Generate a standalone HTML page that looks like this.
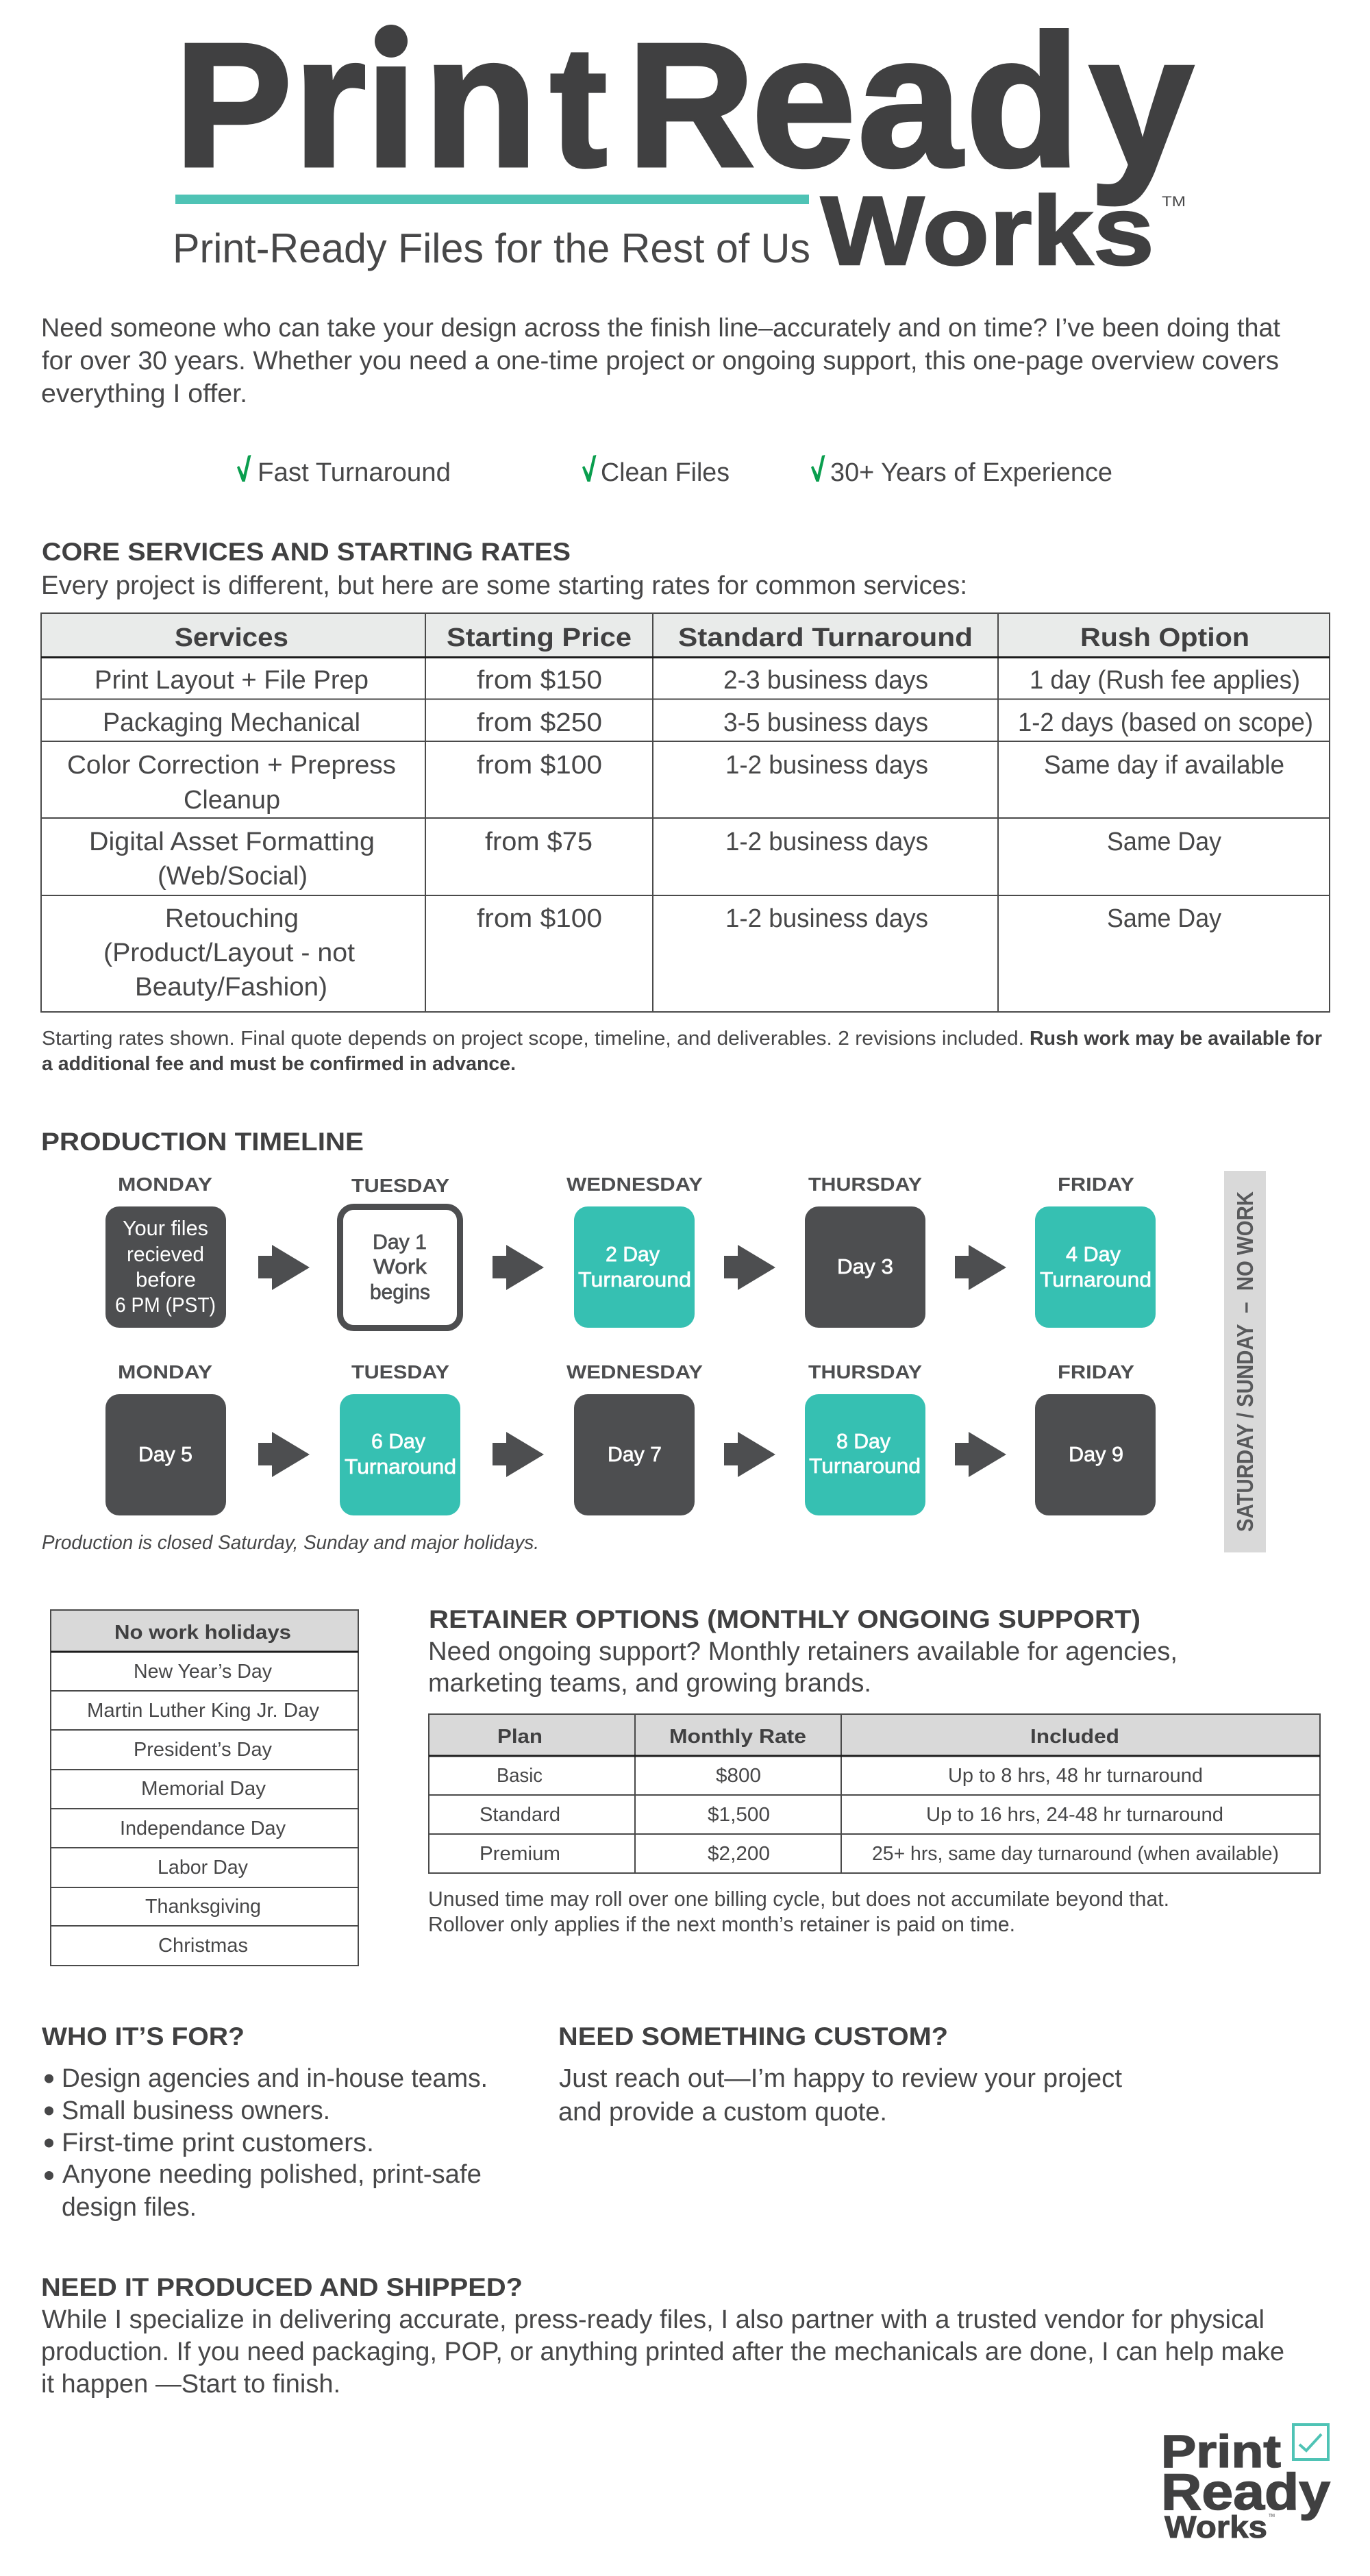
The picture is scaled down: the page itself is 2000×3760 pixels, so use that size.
<!DOCTYPE html>
<html lang="en"><head><meta charset="utf-8"><title>PrintReady Works</title>
<style>
html,body{margin:0;padding:0;background:#fff}
svg{display:block}
text{font-family:"Liberation Sans",sans-serif;fill:#474748;white-space:pre}
.h{font-weight:700;font-size:37px;fill:#404041}
.p{font-size:38px}
.t{font-size:38px}
.th{font-weight:700;font-size:38px;fill:#404041}
.s{font-size:29px}
.sb{font-size:29px;font-weight:700;fill:#404041}
.d{font-size:28px;font-weight:700;fill:#4d4e50}
.w{font-size:31px;fill:#fff}
.wm{font-size:31px;fill:#fff;stroke:#fff;stroke-width:.7px}
.dm{font-size:31px;fill:#4d4e50;stroke:#4d4e50;stroke-width:.7px}
.logo{font-weight:700;fill:#404041;stroke:#404041}
</style></head><body>
<svg xmlns="http://www.w3.org/2000/svg" width="2000" height="3760" viewBox="0 0 2000 3760">
<rect width="2000" height="3760" fill="#fff"/>

<!-- main logo -->
<text class="logo" y="242" stroke-width="5"><tspan x="255" font-size="257">P</tspan><tspan x="428 533 618" font-size="274">rin</tspan><tspan x="803" font-size="250">t</tspan><tspan x="916" font-size="257">R</tspan><tspan x="1097 1252 1409.5 1590" font-size="274">eady</tspan></text>
<rect x="548" y="40" width="46" height="57" fill="#fff"/>
<circle cx="571" cy="60" r="24" fill="#404041"/>
<rect x="256" y="284" width="925" height="14" fill="#4fc3b5"/>
<text x="252" y="383" font-size="60" textLength="931" lengthAdjust="spacingAndGlyphs">Print-Ready Files for the Rest of Us</text>
<text class="logo" x="1198" y="386" font-size="143" stroke-width="2.5" textLength="487" lengthAdjust="spacingAndGlyphs">Works</text>
<text x="1696" y="301" font-size="21" textLength="35" lengthAdjust="spacingAndGlyphs">TM</text>

<!-- intro -->
<text class="p" x="60" y="491" textLength="1809" lengthAdjust="spacingAndGlyphs">Need someone who can take your design across the finish line–accurately and on time? I’ve been doing that</text>
<text class="p" x="61" y="539" textLength="1806" lengthAdjust="spacingAndGlyphs">for over 30 years. Whether you need a one-time project or ongoing support, this one-page overview covers</text>
<text class="p" x="60" y="587" textLength="301" lengthAdjust="spacingAndGlyphs">everything I offer.</text>

<!-- checks -->
<g fill="#0a9e4e">
<polygon points="346,682 353.5,703 357.6,703 366.5,664 362,665 355.5,693 349,680"/>
<polygon transform="translate(504,0)" points="346,682 353.5,703 357.6,703 366.5,664 362,665 355.5,693 349,680"/>
<polygon transform="translate(838,0)" points="346,682 353.5,703 357.6,703 366.5,664 362,665 355.5,693 349,680"/>
</g>
<text class="p" x="376" y="702" textLength="282" lengthAdjust="spacingAndGlyphs">Fast Turnaround</text>
<text class="p" x="877" y="702" textLength="188" lengthAdjust="spacingAndGlyphs">Clean Files</text>
<text class="p" x="1212" y="702" textLength="412" lengthAdjust="spacingAndGlyphs">30+ Years of Experience</text>

<!-- core services -->
<text class="h" x="61" y="818" textLength="772" lengthAdjust="spacingAndGlyphs">CORE SERVICES AND STARTING RATES</text>
<text class="p" x="60" y="867" textLength="1352" lengthAdjust="spacingAndGlyphs">Every project is different, but here are some starting rates for common services:</text>

<rect x="60" y="895" width="1881" height="64" fill="#e9ebea"/>
<g stroke="#4a4a4a" stroke-width="2" fill="none">
<rect x="60" y="895" width="1881" height="582"/>
<path d="M60 1020.5H1941M60 1082H1941M60 1194H1941M60 1307H1941M621 895V1477M953 895V1477M1457 895V1477"/>
</g>
<path d="M60 959.5H1941" stroke="#1c1c1c" stroke-width="3"/>
<text class="th" x="255" y="943" textLength="166" lengthAdjust="spacingAndGlyphs">Services</text>
<text class="th" x="652" y="943" textLength="270" lengthAdjust="spacingAndGlyphs">Starting Price</text>
<text class="th" x="990" y="943" textLength="430" lengthAdjust="spacingAndGlyphs">Standard Turnaround</text>
<text class="th" x="1577" y="943" textLength="247" lengthAdjust="spacingAndGlyphs">Rush Option</text>

<text class="t" x="138" y="1005" textLength="400" lengthAdjust="spacingAndGlyphs">Print Layout + File Prep</text>
<text class="t" x="696" y="1005" textLength="183" lengthAdjust="spacingAndGlyphs">from $150</text>
<text class="t" x="1056" y="1005" textLength="299" lengthAdjust="spacingAndGlyphs">2-3 business days</text>
<text class="t" x="1503" y="1005" textLength="395" lengthAdjust="spacingAndGlyphs">1 day (Rush fee applies)</text>

<text class="t" x="150" y="1067" textLength="376" lengthAdjust="spacingAndGlyphs">Packaging Mechanical</text>
<text class="t" x="696" y="1067" textLength="183" lengthAdjust="spacingAndGlyphs">from $250</text>
<text class="t" x="1056" y="1067" textLength="299" lengthAdjust="spacingAndGlyphs">3-5 business days</text>
<text class="t" x="1486" y="1067" textLength="431" lengthAdjust="spacingAndGlyphs">1-2 days (based on scope)</text>

<text class="t" x="98" y="1129" textLength="480" lengthAdjust="spacingAndGlyphs">Color Correction + Prepress</text>
<text class="t" x="268" y="1180" textLength="141" lengthAdjust="spacingAndGlyphs">Cleanup</text>
<text class="t" x="696" y="1129" textLength="183" lengthAdjust="spacingAndGlyphs">from $100</text>
<text class="t" x="1059" y="1129" textLength="296" lengthAdjust="spacingAndGlyphs">1-2 business days</text>
<text class="t" x="1524" y="1129" textLength="351" lengthAdjust="spacingAndGlyphs">Same day if available</text>

<text class="t" x="130" y="1241" textLength="417" lengthAdjust="spacingAndGlyphs">Digital Asset Formatting</text>
<text class="t" x="230" y="1291" textLength="219" lengthAdjust="spacingAndGlyphs">(Web/Social)</text>
<text class="t" x="708" y="1241" textLength="157" lengthAdjust="spacingAndGlyphs">from $75</text>
<text class="t" x="1059" y="1241" textLength="296" lengthAdjust="spacingAndGlyphs">1-2 business days</text>
<text class="t" x="1616" y="1241" textLength="167" lengthAdjust="spacingAndGlyphs">Same Day</text>

<text class="t" x="241" y="1353" textLength="195" lengthAdjust="spacingAndGlyphs">Retouching</text>
<text class="t" x="151" y="1403" textLength="367" lengthAdjust="spacingAndGlyphs">(Product/Layout - not</text>
<text class="t" x="197" y="1453" textLength="281" lengthAdjust="spacingAndGlyphs">Beauty/Fashion)</text>
<text class="t" x="696" y="1353" textLength="183" lengthAdjust="spacingAndGlyphs">from $100</text>
<text class="t" x="1059" y="1353" textLength="296" lengthAdjust="spacingAndGlyphs">1-2 business days</text>
<text class="t" x="1616" y="1353" textLength="167" lengthAdjust="spacingAndGlyphs">Same Day</text>

<text class="s" x="61" y="1525" textLength="1434" lengthAdjust="spacingAndGlyphs">Starting rates shown. Final quote depends on project scope, timeline, and deliverables. 2 revisions included.</text>
<text class="sb" x="1503" y="1525" textLength="427" lengthAdjust="spacingAndGlyphs">Rush work may be available for</text>
<text class="sb" x="61" y="1562" textLength="692" lengthAdjust="spacingAndGlyphs">a additional fee and must be confirmed in advance.</text>

<!-- timeline -->
<text class="h" x="60" y="1679" textLength="471" lengthAdjust="spacingAndGlyphs">PRODUCTION TIMELINE</text>

<text class="d" x="172" y="1738" textLength="138" lengthAdjust="spacingAndGlyphs">MONDAY</text>
<text class="d" x="513" y="1740" textLength="143" lengthAdjust="spacingAndGlyphs">TUESDAY</text>
<text class="d" x="827" y="1738" textLength="199" lengthAdjust="spacingAndGlyphs">WEDNESDAY</text>
<text class="d" x="1180" y="1738" textLength="166" lengthAdjust="spacingAndGlyphs">THURSDAY</text>
<text class="d" x="1544" y="1738" textLength="112" lengthAdjust="spacingAndGlyphs">FRIDAY</text>

<text class="d" x="172" y="2012" textLength="138" lengthAdjust="spacingAndGlyphs">MONDAY</text>
<text class="d" x="513" y="2012" textLength="143" lengthAdjust="spacingAndGlyphs">TUESDAY</text>
<text class="d" x="827" y="2012" textLength="199" lengthAdjust="spacingAndGlyphs">WEDNESDAY</text>
<text class="d" x="1180" y="2012" textLength="166" lengthAdjust="spacingAndGlyphs">THURSDAY</text>
<text class="d" x="1544" y="2012" textLength="112" lengthAdjust="spacingAndGlyphs">FRIDAY</text>

<g fill="#4d4e50">
<rect x="154" y="1761" width="176" height="177" rx="20"/>
<rect x="1175" y="1761" width="176" height="177" rx="20"/>
<rect x="154" y="2035" width="176" height="177" rx="20"/>
<rect x="838" y="2035" width="176" height="177" rx="20"/>
<rect x="1511" y="2035" width="176" height="177" rx="20"/>
</g>
<rect x="496.5" y="1761.5" width="175" height="177" rx="20" fill="#fff" stroke="#4d4e50" stroke-width="9"/>
<g fill="#36c0b2">
<rect x="838" y="1761" width="176" height="177" rx="20"/>
<rect x="1511" y="1761" width="176" height="177" rx="20"/>
<rect x="496" y="2035" width="176" height="177" rx="20"/>
<rect x="1175" y="2035" width="176" height="177" rx="20"/>
</g>

<g fill="#4d4e50">
<polygon points="377,1833 397,1833 397,1817 452,1850 397,1883 397,1866 377,1866"/>
<polygon transform="translate(342,0)" points="377,1833 397,1833 397,1817 452,1850 397,1883 397,1866 377,1866"/>
<polygon transform="translate(680,0)" points="377,1833 397,1833 397,1817 452,1850 397,1883 397,1866 377,1866"/>
<polygon transform="translate(1017,0)" points="377,1833 397,1833 397,1817 452,1850 397,1883 397,1866 377,1866"/>
<polygon transform="translate(0,273)" points="377,1833 397,1833 397,1817 452,1850 397,1883 397,1866 377,1866"/>
<polygon transform="translate(342,273)" points="377,1833 397,1833 397,1817 452,1850 397,1883 397,1866 377,1866"/>
<polygon transform="translate(680,273)" points="377,1833 397,1833 397,1817 452,1850 397,1883 397,1866 377,1866"/>
<polygon transform="translate(1017,273)" points="377,1833 397,1833 397,1817 452,1850 397,1883 397,1866 377,1866"/>
</g>

<text class="w" x="179" y="1803" textLength="125" lengthAdjust="spacingAndGlyphs">Your files</text>
<text class="w" x="185" y="1841" textLength="113" lengthAdjust="spacingAndGlyphs">recieved</text>
<text class="w" x="198" y="1878" textLength="88" lengthAdjust="spacingAndGlyphs">before</text>
<text class="w" x="168" y="1915" textLength="147" lengthAdjust="spacingAndGlyphs">6 PM (PST)</text>

<text class="dm" x="544" y="1823" textLength="79" lengthAdjust="spacingAndGlyphs">Day 1</text>
<text class="dm" x="545" y="1859" textLength="78" lengthAdjust="spacingAndGlyphs">Work</text>
<text class="dm" x="540" y="1896" textLength="88" lengthAdjust="spacingAndGlyphs">begins</text>

<text class="wm" x="884" y="1841" textLength="79" lengthAdjust="spacingAndGlyphs">2 Day</text>
<text class="wm" x="844" y="1878" textLength="165" lengthAdjust="spacingAndGlyphs">Turnaround</text>
<text class="wm" x="1222" y="1859" textLength="82" lengthAdjust="spacingAndGlyphs">Day 3</text>
<text class="wm" x="1556" y="1841" textLength="80" lengthAdjust="spacingAndGlyphs">4 Day</text>
<text class="wm" x="1518" y="1878" textLength="163" lengthAdjust="spacingAndGlyphs">Turnaround</text>

<text class="wm" x="202" y="2133" textLength="79" lengthAdjust="spacingAndGlyphs">Day 5</text>
<text class="wm" x="542" y="2114" textLength="79" lengthAdjust="spacingAndGlyphs">6 Day</text>
<text class="wm" x="503" y="2151" textLength="163" lengthAdjust="spacingAndGlyphs">Turnaround</text>
<text class="wm" x="887" y="2133" textLength="79" lengthAdjust="spacingAndGlyphs">Day 7</text>
<text class="wm" x="1221" y="2114" textLength="79" lengthAdjust="spacingAndGlyphs">8 Day</text>
<text class="wm" x="1181" y="2150" textLength="163" lengthAdjust="spacingAndGlyphs">Turnaround</text>
<text class="wm" x="1560" y="2133" textLength="80" lengthAdjust="spacingAndGlyphs">Day 9</text>

<rect x="1787" y="1709" width="61" height="557" fill="#d9d9d9"/>
<text transform="translate(1829,2236) rotate(-90)" font-size="33" font-weight="700" style="fill:#58595b" textLength="497" lengthAdjust="spacingAndGlyphs">SATURDAY / SUNDAY  –  NO WORK</text>

<text class="s" x="61" y="2261" font-style="italic" textLength="726" lengthAdjust="spacingAndGlyphs">Production is closed Saturday, Sunday and major holidays.</text>

<!-- holidays -->
<rect x="74" y="2350" width="449" height="61" fill="#d9d9d9"/>
<g stroke="#4a4a4a" stroke-width="2" fill="none">
<rect x="74" y="2350" width="449" height="519"/>
<path d="M74 2468H523M74 2525H523M74 2583H523M74 2640H523M74 2697H523M74 2755H523M74 2811H523"/>
</g>
<path d="M74 2411H523" stroke="#1c1c1c" stroke-width="3"/>
<text class="sb" x="167" y="2392" textLength="258" lengthAdjust="spacingAndGlyphs">No work holidays</text>
<text class="s" x="195" y="2449" textLength="202" lengthAdjust="spacingAndGlyphs">New Year’s Day</text>
<text class="s" x="127" y="2506" textLength="339" lengthAdjust="spacingAndGlyphs">Martin Luther King Jr. Day</text>
<text class="s" x="195" y="2563" textLength="202" lengthAdjust="spacingAndGlyphs">President’s Day</text>
<text class="s" x="206" y="2620" textLength="182" lengthAdjust="spacingAndGlyphs">Memorial Day</text>
<text class="s" x="175" y="2678" textLength="242" lengthAdjust="spacingAndGlyphs">Independance Day</text>
<text class="s" x="230" y="2735" textLength="132" lengthAdjust="spacingAndGlyphs">Labor Day</text>
<text class="s" x="212" y="2792" textLength="169" lengthAdjust="spacingAndGlyphs">Thanksgiving</text>
<text class="s" x="231" y="2849" textLength="131" lengthAdjust="spacingAndGlyphs">Christmas</text>

<!-- retainer -->
<text class="h" x="626" y="2376" textLength="1039" lengthAdjust="spacingAndGlyphs">RETAINER OPTIONS (MONTHLY ONGOING SUPPORT)</text>
<text class="p" x="625" y="2423" textLength="1094" lengthAdjust="spacingAndGlyphs">Need ongoing support? Monthly retainers available for agencies,</text>
<text class="p" x="625" y="2469" textLength="647" lengthAdjust="spacingAndGlyphs">marketing teams, and growing brands.</text>

<rect x="626" y="2502" width="1301" height="60" fill="#d9d9d9"/>
<g stroke="#4a4a4a" stroke-width="2" fill="none">
<rect x="626" y="2502" width="1301" height="232"/>
<path d="M626 2620H1927M626 2677H1927M927 2502V2734M1228 2502V2734"/>
</g>
<path d="M626 2563H1927" stroke="#1c1c1c" stroke-width="3"/>
<text class="sb" x="726" y="2544" textLength="66" lengthAdjust="spacingAndGlyphs">Plan</text>
<text class="sb" x="977" y="2544" textLength="200" lengthAdjust="spacingAndGlyphs">Monthly Rate</text>
<text class="sb" x="1504" y="2544" textLength="130" lengthAdjust="spacingAndGlyphs">Included</text>

<text class="s" x="725" y="2601" textLength="67" lengthAdjust="spacingAndGlyphs">Basic</text>
<text class="s" x="1045" y="2601" textLength="66" lengthAdjust="spacingAndGlyphs">$800</text>
<text class="s" x="1384" y="2601" textLength="372" lengthAdjust="spacingAndGlyphs">Up to 8 hrs, 48 hr turnaround</text>
<text class="s" x="700" y="2658" textLength="118" lengthAdjust="spacingAndGlyphs">Standard</text>
<text class="s" x="1033" y="2658" textLength="91" lengthAdjust="spacingAndGlyphs">$1,500</text>
<text class="s" x="1352" y="2658" textLength="434" lengthAdjust="spacingAndGlyphs">Up to 16 hrs, 24-48 hr turnaround</text>
<text class="s" x="700" y="2715" textLength="118" lengthAdjust="spacingAndGlyphs">Premium</text>
<text class="s" x="1033" y="2715" textLength="91" lengthAdjust="spacingAndGlyphs">$2,200</text>
<text class="s" x="1273" y="2715" textLength="594" lengthAdjust="spacingAndGlyphs">25+ hrs, same day turnaround (when available)</text>

<text x="625" y="2782" font-size="31" textLength="1082" lengthAdjust="spacingAndGlyphs">Unused time may roll over one billing cycle, but does not accumilate beyond that.</text>
<text x="625" y="2819" font-size="31" textLength="857" lengthAdjust="spacingAndGlyphs">Rollover only applies if the next month’s retainer is paid on time.</text>

<!-- who -->
<text class="h" x="61" y="2985" textLength="296" lengthAdjust="spacingAndGlyphs">WHO IT’S FOR?</text>
<text class="h" x="815" y="2985" textLength="569" lengthAdjust="spacingAndGlyphs">NEED SOMETHING CUSTOM?</text>
<g fill="#474748">
<circle cx="71.5" cy="3034" r="6.5"/><circle cx="71.5" cy="3081" r="6.5"/><circle cx="71.5" cy="3128" r="6.5"/><circle cx="71.5" cy="3175.5" r="6.5"/>
</g>
<text class="p" x="90" y="3046" textLength="622" lengthAdjust="spacingAndGlyphs">Design agencies and in-house teams.</text>
<text class="p" x="90" y="3093" textLength="392" lengthAdjust="spacingAndGlyphs">Small business owners.</text>
<text class="p" x="90" y="3140" textLength="456" lengthAdjust="spacingAndGlyphs">First-time print customers.</text>
<text class="p" x="91" y="3186" textLength="612" lengthAdjust="spacingAndGlyphs">Anyone needing polished, print-safe</text>
<text class="p" x="90" y="3234" textLength="197" lengthAdjust="spacingAndGlyphs">design files.</text>
<text class="p" x="816" y="3046" textLength="822" lengthAdjust="spacingAndGlyphs">Just reach out—I’m happy to review your project</text>
<text class="p" x="815" y="3095" textLength="480" lengthAdjust="spacingAndGlyphs">and provide a custom quote.</text>

<text class="h" x="60" y="3351" textLength="703" lengthAdjust="spacingAndGlyphs">NEED IT PRODUCED AND SHIPPED?</text>
<text class="p" x="61" y="3398" textLength="1785" lengthAdjust="spacingAndGlyphs">While I specialize in delivering accurate, press-ready files, I also partner with a trusted vendor for physical</text>
<text class="p" x="60" y="3445" textLength="1815" lengthAdjust="spacingAndGlyphs">production. If you need packaging, POP, or anything printed after the mechanicals are done, I can help make</text>
<text class="p" x="60" y="3492" textLength="437" lengthAdjust="spacingAndGlyphs">it happen —Start to finish.</text>

<!-- footer logo -->
<text class="logo" x="1695" y="3601" font-size="67" stroke-width="1.5" textLength="175" lengthAdjust="spacingAndGlyphs">Print</text>
<text class="logo" x="1695" y="3663" font-size="75" stroke-width="1.5" textLength="247" lengthAdjust="spacingAndGlyphs">Ready</text>
<text class="logo" x="1700" y="3704" font-size="45" stroke-width="1" textLength="150" lengthAdjust="spacingAndGlyphs">Works</text>
<text x="1852" y="3674" font-size="7" textLength="9" lengthAdjust="spacingAndGlyphs">TM</text>
<rect x="1888" y="3539" width="51" height="51" fill="none" stroke="#4fc3b5" stroke-width="4"/>
<polyline points="1897,3568 1907,3577 1929,3553" fill="none" stroke="#4fc3b5" stroke-width="4"/>
</svg>
</body></html>
